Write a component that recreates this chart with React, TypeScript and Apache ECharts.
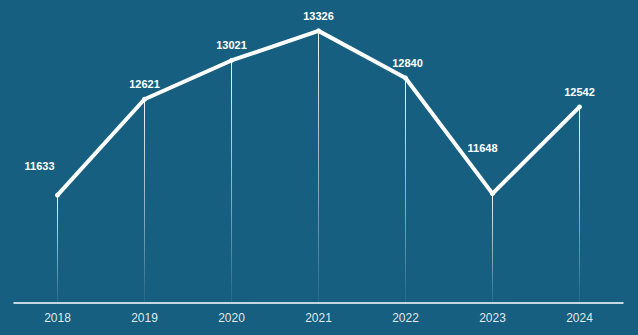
import React, { useEffect, useRef } from "react";
import * as echarts from "echarts";

const years = ["2018", "2019", "2020", "2021", "2022", "2023", "2024"];
const values = [11633, 12621, 13021, 13326, 12840, 11648, 12542];
const labelOffsets: [number, number][] = [
  [-18, -14],
  [0, 0],
  [0, 0],
  [0, 0],
  [2, 0],
  [-10, -31],
  [0, 0],
];

export default function App() {
  const ref = useRef<HTMLDivElement>(null);
  useEffect(() => {
    if (!ref.current) return;
    const chart = echarts.init(ref.current, undefined, { renderer: "svg" });
    chart.setOption({
      animation: false,
      backgroundColor: "#175f80",
      grid: { left: 14, right: 15, top: 14, bottom: 32 },
      xAxis: {
        type: "category",
        data: years,
        boundaryGap: true,
        axisLine: { lineStyle: { color: "#ffffff", width: 1.5 } },
        axisTick: { show: false },
        axisLabel: { color: "rgba(255,255,255,0.88)", fontSize: 12, margin: 9, fontFamily: "Liberation Sans, Arial, sans-serif" },
        splitLine: { show: false },
      },
      yAxis: {
        type: "value",
        min: 10520,
        max: 13500,
        show: false,
        splitLine: { show: false },
      },
      series: [
        {
          type: "bar",
          data: values,
          barWidth: 1,
          silent: true,
          itemStyle: {
            color: new echarts.graphic.LinearGradient(0, 0, 0, 1, [
              { offset: 0, color: "rgba(255,255,255,0.95)" },
              { offset: 0.6, color: "rgba(255,255,255,0.45)" },
              { offset: 1, color: "rgba(255,255,255,0.05)" },
            ]),
          },
        },
        {
          type: "line",
          data: values.map((v, i) => ({
            value: v,
            label: { offset: labelOffsets[i] },
          })),
          symbol: "circle",
          symbolSize: 5,
          itemStyle: { color: "#ffffff" },
          lineStyle: { color: "#ffffff", width: 4 },
          label: {
            show: true,
            position: "top",
            distance: 7,
            color: "#ffffff",
            fontSize: 11,
            fontWeight: "bold",
            fontFamily: "Liberation Sans, Arial, sans-serif",
          },
        },
      ],
    });
    return () => chart.dispose();
  }, []);
  return <div ref={ref} style={{ width: 638, height: 335, position: "absolute", left: 0, top: 0 }} />;
}
